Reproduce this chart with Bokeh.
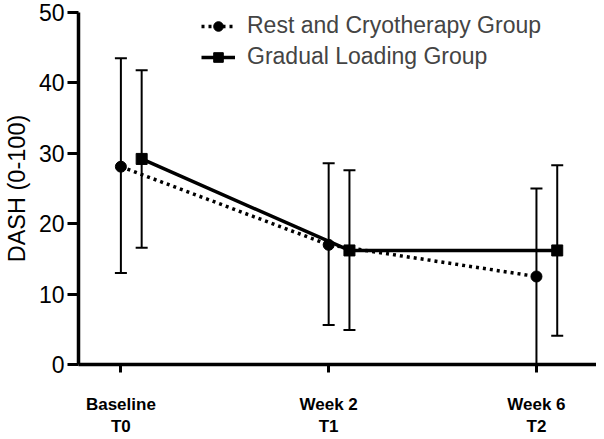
from bokeh.plotting import figure
from bokeh.models import Whisker, ColumnDataSource, FixedTicker, Legend, LegendItem, Range1d, TeeHead
from bokeh.embed import file_html
from bokeh.resources import INLINE

categories = ["Baseline\nT0", "Week 2\nT1", "Week 6\nT2"]
rest_mean = [28.1, 17.0, 12.5]
rest_upper = [43.5, 28.6, 25.0]
rest_lower = [13.0, 5.6, 0.0]
grad_mean = [29.2, 16.2, 16.2]
grad_upper = [41.8, 27.6, 28.3]
grad_lower = [16.6, 4.9, 4.1]
y_ticks = [0, 10, 20, 30, 40, 50]

REST_OFF = 0.0
GRAD_OFF = 0.1
idx = list(range(len(categories)))

rest_src = ColumnDataSource(dict(x=[i + REST_OFF for i in idx], y=rest_mean,
                                 up=rest_upper, lo=rest_lower))
grad_src = ColumnDataSource(dict(x=[i + GRAD_OFF for i in idx], y=grad_mean,
                                 up=grad_upper, lo=grad_lower))

FONT = "Liberation Sans"

p = figure(width=596, height=439, output_backend="svg", toolbar_location=None,
           x_range=Range1d(-0.204, 2.289), y_range=Range1d(0, 50),
           min_border_left=70, min_border_top=12, min_border_right=0, min_border_bottom=75)
p.outline_line_color = None
p.xgrid.visible = False
p.ygrid.visible = False

for src in (rest_src, grad_src):
    w = Whisker(source=src, base="x", upper="up", lower="lo", line_width=2, line_color="black",
                upper_head=TeeHead(size=12, line_width=2, line_color="black"),
                lower_head=TeeHead(size=12, line_width=2, line_color="black"))
    p.add_layout(w)

r_line = p.line("x", "y", source=rest_src, line_width=3.5, line_color="black", line_dash="3 4")
g_line = p.line("x", "y", source=grad_src, line_width=3.5, line_color="black")
r_mark = p.scatter("x", "y", source=rest_src, marker="circle", size=11, color="black")
g_mark = p.scatter("x", "y", source=grad_src, marker="square", size=11, color="black")

legend = Legend(items=[
    LegendItem(label="Rest and Cryotherapy Group", renderers=[r_line, r_mark]),
    LegendItem(label="Gradual Loading Group", renderers=[g_line, g_mark]),
], location=(123, 294), border_line_color=None, background_fill_alpha=0,
    padding=0, margin=0, spacing=4, label_height=24, glyph_height=24, glyph_width=34,
    label_standoff=12, label_text_font=FONT, label_text_font_size="23px")
p.add_layout(legend)

# y axis
p.yaxis.ticker = FixedTicker(ticks=y_ticks)
p.yaxis.axis_label = "DASH (0-100)"
p.yaxis.axis_label_text_font = FONT
p.yaxis.axis_label_text_font_size = "23.5px"
p.yaxis.axis_label_text_font_style = "normal"
p.yaxis.axis_label_standoff = 6
p.yaxis.major_label_text_font = FONT
p.yaxis.major_label_text_font_size = "23px"
p.yaxis.major_label_standoff = 3
p.yaxis.major_tick_out = 11
p.yaxis.major_tick_in = 0
p.yaxis.minor_tick_line_color = None

# x axis
p.xaxis.ticker = FixedTicker(ticks=idx)
p.xaxis.major_label_overrides = {i: c for i, c in zip(idx, categories)}
p.xaxis.major_label_text_font = FONT
p.xaxis.major_label_text_font_size = "17px"
p.xaxis.major_label_text_font_style = "bold"
p.xaxis.major_label_standoff = 22
p.xaxis.major_tick_out = 8
p.xaxis.major_tick_in = 0
p.xaxis.minor_tick_line_color = None

for ax in (p.xaxis, p.yaxis):
    ax.axis_line_width = 3.5
    ax.major_tick_line_width = 3
    ax.axis_line_color = "black"
    ax.major_tick_line_color = "black"
    ax.major_label_text_color = "black"
    ax.axis_label_text_color = "black"

open("out.html", "w").write(file_html(p, INLINE))
